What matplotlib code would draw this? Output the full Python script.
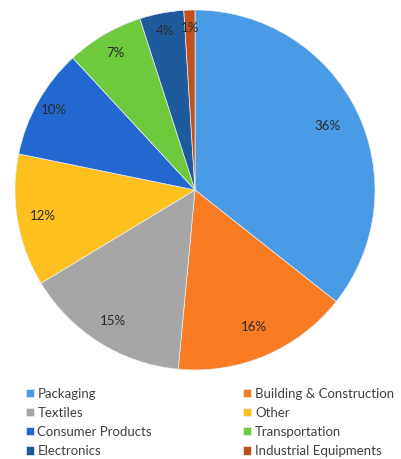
import matplotlib.pyplot as plt
import numpy as np

# Data
sectors = ['Packaging', 'Building & Construction', 'Textiles', 'Other',
           'Consumer Products', 'Transportation', 'Electronics', 'Industrial Equipments']
shares = [36, 16, 15, 12, 10, 7, 4, 1]
colors = ['#4a9be6', '#f97b22', '#a6a6a6', '#fdc01e',
          '#2268d0', '#6fc93c', '#1f5b9c', '#c2501c']
label_dist = [0.82, 0.83, 0.86, 0.86, 0.9, 0.88, 0.9, 0.9]

plt.rcParams['font.family'] = ['Lato', 'DejaVu Sans']

fig = plt.figure(figsize=(4.01, 4.59), dpi=100)
ax = fig.add_axes([15/401, 1 - 370/459, 360/401, 360/459])

wedges, _ = ax.pie(shares, colors=colors, startangle=90, counterclock=False,
                   wedgeprops=dict(edgecolor='#e8eef5', linewidth=0.5))
ax.set_aspect('equal')
ax.set_xlim(-1, 1)
ax.set_ylim(-1, 1)

# percentage labels
for w, v, d in zip(wedges, shares, label_dist):
    ang = np.deg2rad((w.theta1 + w.theta2) / 2)
    ax.text(d * np.cos(ang), d * np.sin(ang), f'{v}%', ha='center', va='center',
            fontsize=9.5, color='#2a2a2a')

# legend, row-wise order like the original
order = list(range(0, 8, 2)) + list(range(1, 8, 2))
leg = fig.legend([wedges[i] for i in order], [sectors[i] for i in order],
                 loc='upper left', bbox_to_anchor=(19/401, 1 - 381/459),
                 ncol=2, frameon=False, fontsize=9.5,
                 handlelength=0.6, handleheight=0.6, handletextpad=0.3,
                 columnspacing=6.9, labelspacing=0.54, borderpad=0)
for t in leg.get_texts():
    t.set_color('#404040')

fig.savefig('out.png', dpi=100)
